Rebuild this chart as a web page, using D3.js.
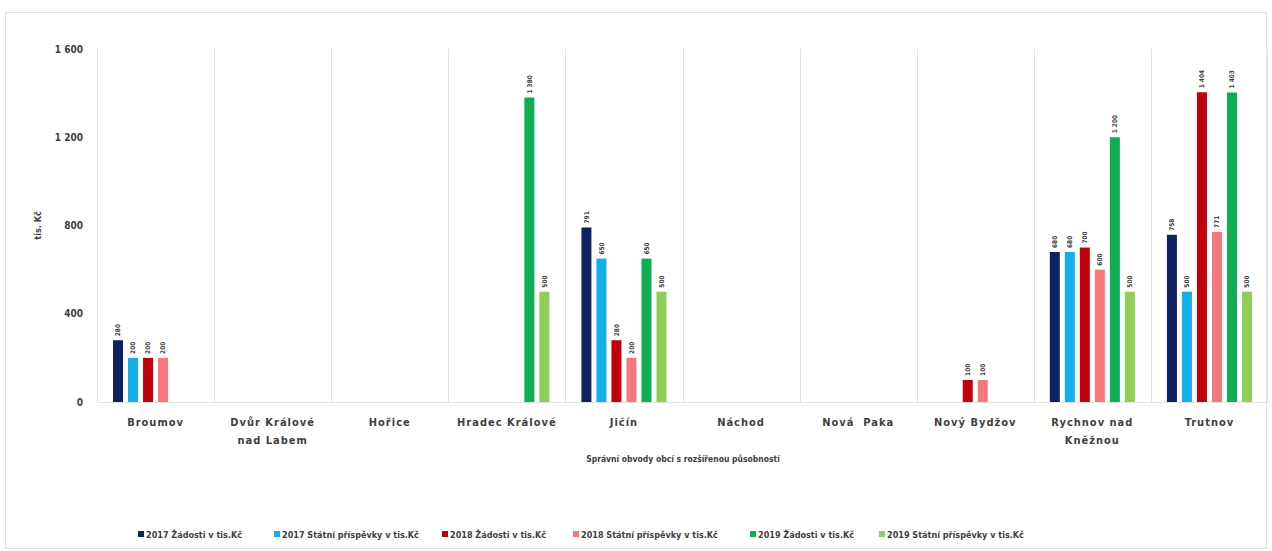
<!DOCTYPE html>
<html><head><meta charset="utf-8">
<script src="https://cdn.jsdelivr.net/npm/d3@7"></script>
<style>
html,body{margin:0;padding:0;background:#fff;}
svg{display:block;font-family:"DejaVu Sans Condensed","DejaVu Sans",sans-serif;}
</style></head>
<body><svg id="c" width="1272" height="551"></svg>
<script>
const categories = ["Broumov","Dvůr Králové nad Labem","Hořice","Hradec Králové","Jičín","Náchod","Nová Paka","Nový Bydžov","Rychnov nad Kněžnou","Trutnov"];
const categoryLines = [["Broumov"],["Dvůr Králové","nad Labem"],["Hořice"],["Hradec Králové"],["Jičín"],["Náchod"],["Nová  Paka"],["Nový Bydžov"],["Rychnov nad","Kněžnou"],["Trutnov"]];
const seriesNames = ["2017 Žádosti v tis.Kč","2017 Státní příspěvky v tis.Kč","2018 Žádosti v tis.Kč","2018 Státní příspěvky v tis.Kč","2019 Žádosti v tis.Kč","2019 Státní příspěvky v tis.Kč"];
const seriesColors = ["#0e2260","#14aee8","#c0000c","#f7787c","#0fae55","#8fcf55"];
const zadosti2017 = [280,null,null,null,791,null,null,null,680,758];
const prispevky2017 = [200,null,null,null,650,null,null,null,680,500];
const zadosti2018 = [200,null,null,null,280,null,null,100,700,1404];
const prispevky2018 = [200,null,null,null,200,null,null,100,600,771];
const zadosti2019 = [null,null,null,1380,650,null,null,null,1200,1403];
const prispevky2019 = [null,null,null,500,500,null,null,null,500,500];
const seriesValues = [zadosti2017,prispevky2017,zadosti2018,prispevky2018,zadosti2019,prispevky2019];
const yTicks = [0,400,800,1200,1600];
const yTitle = "tis. Kč";
const xTitle = "Správní obvody obcí s rozšířenou působností";

(function(){
const svg = d3.select("#c");
svg.append("rect").attr("x",5.5).attr("y",12.5).attr("width",1261).attr("height",536)
  .attr("fill","#fff").attr("stroke","#e3e3e3");

const pL=97, pR=1268, pT=49, pB=402;
const x = d3.scaleBand().domain(categories).range([pL,pR]).padding(0);
const xs = d3.scaleBand().domain(seriesNames).range([0,x.bandwidth()]).paddingInner(1/3).paddingOuter(1.067);
const y = d3.scaleLinear().domain([0,1600]).range([pB,pT]);
const fmt = v => d3.format(",")(v).replace(/,/g," ");

const sepX = categories.map(c=>x(c)).concat([pR-1]);
svg.append("g").selectAll("line").data(sepX).join("line")
  .attr("x1",d=>Math.round(d)+0.5).attr("x2",d=>Math.round(d)+0.5).attr("y1",pT).attr("y2",pB)
  .attr("stroke","#e2e2e2");
svg.append("line").attr("x1",pL).attr("x2",pR).attr("y1",pB+0.5).attr("y2",pB+0.5).attr("stroke","#e2e2e2");

const yAxis = d3.axisLeft(y).tickValues(yTicks).tickFormat(fmt).tickSize(0).tickPadding(14);
const gy = svg.append("g").attr("transform",`translate(${pL},0)`).call(yAxis);
gy.select(".domain").remove();
gy.selectAll("text").attr("font-size",10).attr("font-weight","bold").attr("fill","#404040").attr("font-family","'DejaVu Sans Condensed',sans-serif");

svg.append("text").attr("transform",`translate(41,${(pT+pB)/2}) rotate(-90)`)
  .attr("text-anchor","middle").attr("font-size",9).attr("font-weight","bold").attr("fill","#404040").text(yTitle);

const flat=[];
seriesNames.forEach((s,i)=>categories.forEach((c,j)=>{const v=seriesValues[i][j]; if(v!=null) flat.push({s,c,v,col:seriesColors[i]});}));
svg.append("g").selectAll("rect").data(flat).join("rect")
  .attr("x",d=>x(d.c)+xs(d.s)).attr("width",xs.bandwidth())
  .attr("y",d=>y(d.v)).attr("height",d=>y(0)-y(d.v)).attr("fill",d=>d.col);

const gl = svg.append("g");
flat.forEach(d=>{
  const cx = x(d.c)+xs(d.s)+xs.bandwidth()/2;
  const ty = y(d.v)-4;
  const g = gl.append("g").attr("transform",`translate(${cx},${ty}) rotate(-90)`);
  const t = g.append("text").attr("x",0).attr("y",0).attr("dy","0.35em").attr("text-anchor","start")
    .attr("font-size",6.5).attr("font-weight","bold").attr("fill","#404040").text(fmt(d.v));
  const bb = t.node().getBBox();
  g.insert("rect","text").attr("x",bb.x-1).attr("y",bb.y-0.5).attr("width",bb.width+2).attr("height",bb.height+1).attr("fill","#fff");
});

const gx = svg.append("g");
categories.forEach((c,i)=>{
  const cx = x(c)+x.bandwidth()/2;
  const t = gx.append("text").attr("x",cx).attr("y",426)
    .attr("text-anchor","middle").attr("font-size",11).attr("font-weight","bold").attr("fill","#404040")
    .attr("letter-spacing","1").style("white-space","pre");
  categoryLines[i].forEach((l,k)=>t.append("tspan").attr("x",cx).attr("dy",k?18:0).text(l));
});
svg.append("text").attr("x",683).attr("y",462).attr("text-anchor","middle")
  .attr("font-size",8.5).attr("font-weight","bold").attr("fill","#404040").text(xTitle);

const legX = [138,274,442,573,750,879];
const gLeg = svg.append("g");
seriesNames.forEach((s,i)=>{
  gLeg.append("rect").attr("x",legX[i]).attr("y",531).attr("width",6).attr("height",6).attr("fill",seriesColors[i]);
  gLeg.append("text").attr("x",legX[i]+8).attr("y",537.5).attr("font-size",9).attr("font-weight","bold")
    .attr("fill","#404040").text(s);
});
})();
</script></body></html>
